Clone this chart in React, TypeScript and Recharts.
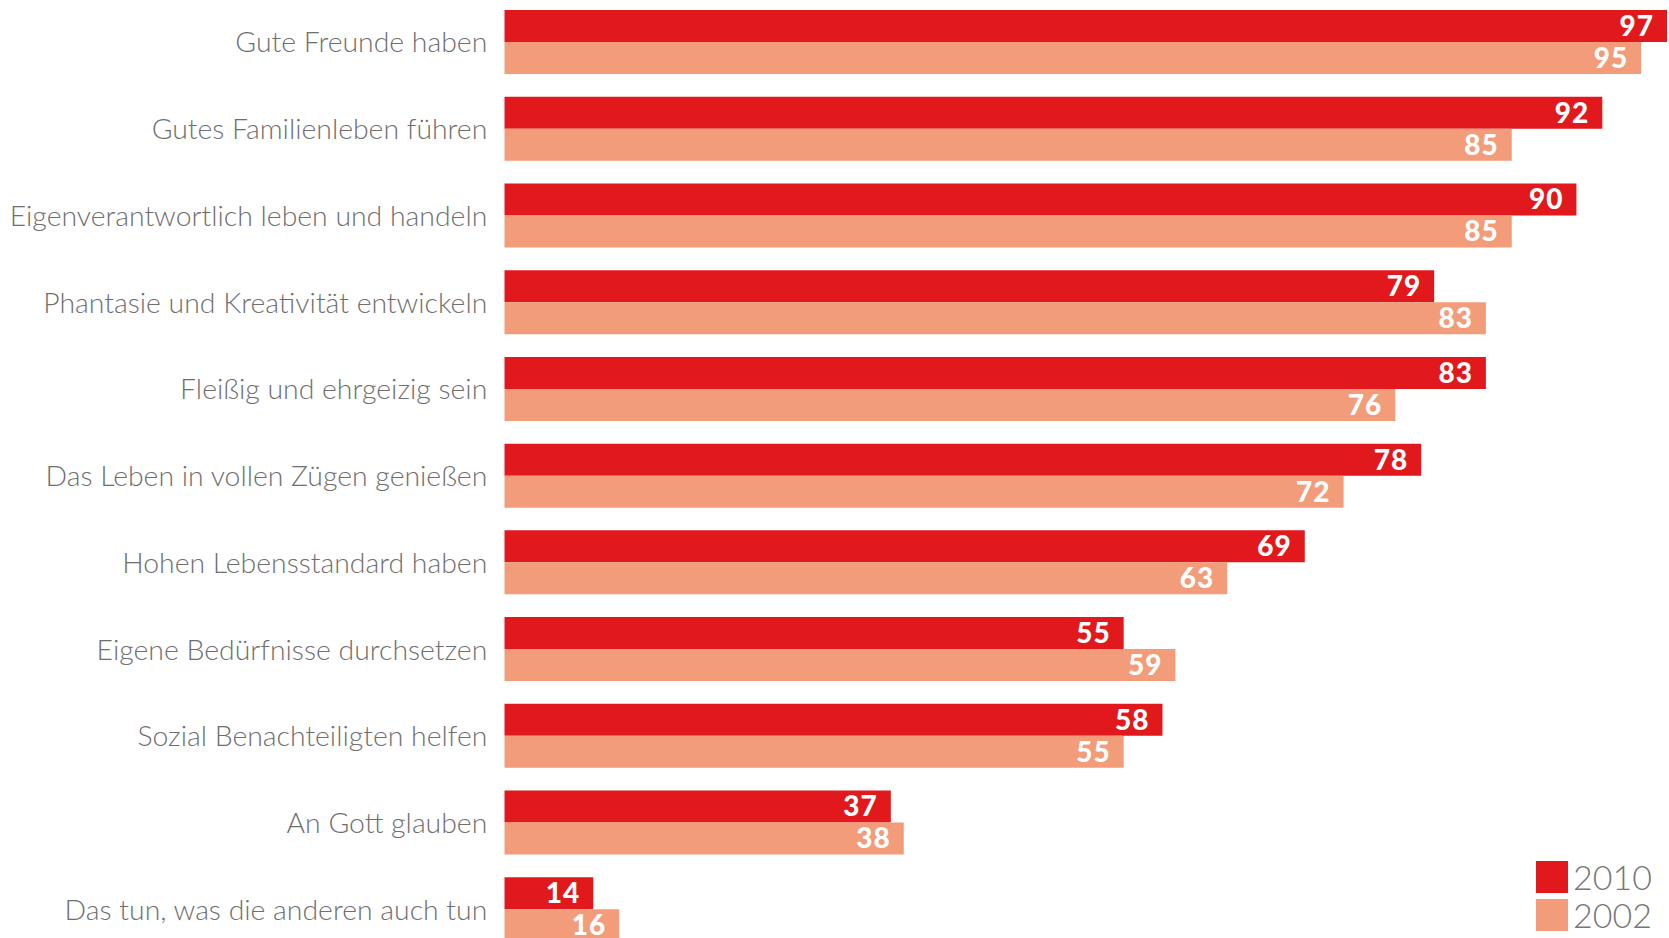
import React from 'react';
import { BarChart, Bar, XAxis, YAxis, LabelList, Legend } from 'recharts';

const categories = [
  'Gute Freunde haben',
  'Gutes Familienleben führen',
  'Eigenverantwortlich leben und handeln',
  'Phantasie und Kreativität entwickeln',
  'Fleißig und ehrgeizig sein',
  'Das Leben in vollen Zügen genießen',
  'Hohen Lebensstandard haben',
  'Eigene Bedürfnisse durchsetzen',
  'Sozial Benachteiligten helfen',
  'An Gott glauben',
  'Das tun, was die anderen auch tun',
];
const values2010 = [97, 92, 90, 79, 83, 78, 69, 55, 58, 37, 14];
const values2002 = [95, 85, 85, 83, 76, 72, 63, 59, 55, 38, 16];
const seriesNames = ['2010', '2002'];
const seriesColors = ['#E2191C', '#F29C7A'];

const data = categories.map((name, i) => ({
  name,
  v2010: values2010[i],
  v2002: values2002[i],
}));

const LegendContent = () => (
  <div style={{ display: 'flex', flexDirection: 'column', gap: 6 }}>
    {seriesNames.map((n, i) => (
      <div key={n} style={{ display: 'flex', alignItems: 'center', height: 32 }}>
        <div style={{ width: 32, height: 32, background: seriesColors[i] }} />
        <span
          style={{
            marginLeft: 5,
            fontFamily: 'Lato, sans-serif',
            fontWeight: 300,
            fontSize: 34,
            color: '#777',
            lineHeight: '32px',
          }}
        >
          {n}
        </span>
      </div>
    ))}
  </div>
);

export default function App() {
  return (
    <div
      style={{
        position: 'fixed',
        left: 0,
        top: 0,
        width: 1669,
        height: 938,
        overflow: 'hidden',
        background: '#fff',
      }}
    >
      <div style={{ position: 'absolute', left: 0, top: -1 }}>
        <BarChart
          width={1669}
          height={954}
          data={data}
          layout="vertical"
          margin={{ top: 0, right: 2, bottom: 0, left: 0 }}
          barGap={0}
          barSize={32}
        >
          <XAxis type="number" domain={[7.12, 97]} allowDataOverflow hide />
          <YAxis
            type="category"
            dataKey="name"
            width={504.3}
            tickLine={false}
            axisLine={false}
            tickSize={0}
            tickMargin={17}
            tick={{ fill: '#6f6f6f', fontSize: 28.4, fontFamily: 'Lato, sans-serif', fontWeight: 300 }}
            interval={0}
          />
          <Legend
            layout="horizontal"
            verticalAlign="middle"
            align="center"
            content={<LegendContent />}
            wrapperStyle={{ left: 1536, top: 862, width: 133 }}
          />
          <Bar dataKey="v2010" name={seriesNames[0]} fill={seriesColors[0]} isAnimationActive={false}>
            <LabelList
              dataKey="v2010"
              position="insideRight"
              offset={13}
              fill="#fff"
              style={{ fontSize: 28, fontWeight: 900, fontFamily: 'Lato, sans-serif', letterSpacing: 1 }}
            />
          </Bar>
          <Bar dataKey="v2002" name={seriesNames[1]} fill={seriesColors[1]} isAnimationActive={false}>
            <LabelList
              dataKey="v2002"
              position="insideRight"
              offset={13}
              fill="#fff"
              style={{ fontSize: 28, fontWeight: 900, fontFamily: 'Lato, sans-serif', letterSpacing: 1 }}
            />
          </Bar>
        </BarChart>
      </div>
    </div>
  );
}
